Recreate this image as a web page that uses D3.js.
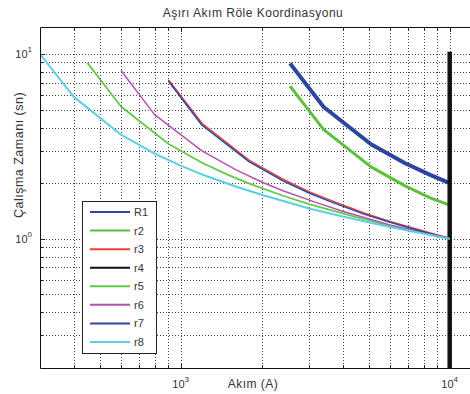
<!DOCTYPE html>
<html>
<head>
<meta charset="utf-8">
<script src="https://cdn.jsdelivr.net/npm/d3@7"></script>
<style>
  body { margin: 0; background: #fff; }
  text { font-family: "Liberation Sans", Arial, sans-serif; fill: #333; }
</style>
</head>
<body>
<svg id="chart"></svg>
<script>
const width = 470;
const height = 394;

// Relay curves: current (A) and operating time (s)
const seriesNames = ["R1", "r2", "r3", "r4", "r5", "r6", "r7", "r8"];

const r1Current = [2550, 3400, 5100, 6800, 8500, 10000];
const r1Time = [8.9, 5.17, 3.25, 2.57, 2.21, 2.0];

const r2Current = [2550, 3400, 5100, 6800, 8500, 10000];
const r2Time = [6.7, 3.9, 2.45, 1.94, 1.66, 1.52];

const r3Current = [900, 1200, 1800, 2400, 3000, 3600, 4800, 6000, 9000, 10000];
const r3Time = [7.25, 4.22, 2.66, 2.1, 1.8, 1.62, 1.38, 1.24, 1.05, 1.01];

const r4Current = [10000, 10000];
const r4Time = [10, 0.1];

const r5Current = [450, 600, 900, 1200, 1500, 1800, 2400, 3000, 4500, 6000, 10000];
const r5Time = [8.95, 5.2, 3.27, 2.58, 2.22, 1.99, 1.71, 1.54, 1.31, 1.18, 1.0];

const r6Current = [600, 800, 1200, 1600, 2000, 2400, 3200, 4000, 6000, 8000, 10000];
const r6Time = [8.15, 4.7, 2.99, 2.37, 2.03, 1.82, 1.57, 1.41, 1.19, 1.08, 1.0];

const r7Current = [900, 1200, 1800, 2400, 3000, 3600, 4800, 6000, 9000, 10000];
const r7Time = [7.15, 4.12, 2.61, 2.06, 1.77, 1.59, 1.36, 1.23, 1.04, 1.0];

const r8Current = [300, 400, 600, 800, 1000, 1200, 1600, 2000, 3000, 4000, 6000, 10000];
const r8Time = [10, 5.88, 3.66, 2.89, 2.49, 2.23, 1.92, 1.73, 1.46, 1.32, 1.16, 1.0];

const seriesColors = ["#2c45a0", "#5cc03c", "#e8403c", "#111111", "#66c848", "#b452b0", "#2f47a0", "#5ccfe0"];
const seriesWidths = [4, 3, 1.5, 4.5, 1.8, 1.5, 1.5, 2];

const xTickMajor = [1000, 10000];
const xTickLabels = ["3", "4"];
const xGrid = [400, 500, 600, 700, 800, 900, 1000, 2000, 3000, 4000, 5000, 6000, 7000, 8000, 9000, 10000];
const yTickMajor = [1, 10];
const yTickLabels = ["0", "1"];
const yGrid = [0.3, 0.4, 0.5, 0.6, 0.7, 0.8, 0.9, 1, 2, 3, 4, 5, 6, 7, 8, 9, 10];

const layout = {left: 40, top: 27, bottom: 368, right: 471};

const svg = d3.select("#chart")
    .attr("width", width)
    .attr("height", height);

const x = d3.scaleLog().domain([300, 12000]).range([layout.left, layout.right]);
const y = d3.scaleLog().domain([0.2, 14]).range([layout.bottom, layout.top]);

svg.append("clipPath").attr("id", "plotClip")
  .append("rect")
    .attr("x", layout.left).attr("y", layout.top)
    .attr("width", layout.right - layout.left)
    .attr("height", layout.bottom - layout.top);

svg.append("rect")
    .attr("x", layout.left).attr("y", layout.top)
    .attr("width", layout.right - layout.left)
    .attr("height", layout.bottom - layout.top)
    .style("fill", "#fff");

// Dotted grid
const grid = svg.append("g")
    .style("stroke", "#444")
    .style("stroke-width", 1)
    .style("stroke-dasharray", "1,2");

grid.selectAll(".gx").data(xGrid).enter().append("line")
    .attr("x1", d => Math.round(x(d)) + 0.5).attr("x2", d => Math.round(x(d)) + 0.5)
    .attr("y1", layout.top).attr("y2", layout.bottom);

grid.selectAll(".gy").data(yGrid).enter().append("line")
    .attr("y1", d => Math.round(y(d)) + 0.5).attr("y2", d => Math.round(y(d)) + 0.5)
    .attr("x1", layout.left).attr("x2", layout.right);

// Inside ticks
const ticks = svg.append("g").style("stroke", "#222").style("stroke-width", 1);
xGrid.forEach(d => {
    let len = xTickMajor.includes(d) ? 5 : 3;
    let px = Math.round(x(d)) + 0.5;
    ticks.append("line").attr("x1", px).attr("x2", px).attr("y1", layout.bottom).attr("y2", layout.bottom - len);
    ticks.append("line").attr("x1", px).attr("x2", px).attr("y1", layout.top).attr("y2", layout.top + len);
});
yGrid.forEach(d => {
    let len = yTickMajor.includes(d) ? 5 : 3;
    let py = Math.round(y(d)) + 0.5;
    ticks.append("line").attr("x1", layout.left).attr("x2", layout.left + len).attr("y1", py).attr("y2", py);
});

// Curves
const allCurrents = [r1Current, r2Current, r3Current, r4Current, r5Current, r6Current, r7Current, r8Current];
const allTimes = [r1Time, r2Time, r3Time, r4Time, r5Time, r6Time, r7Time, r8Time];

const line = d3.line().x(d => x(d[0])).y(d => y(d[1]));
const curves = svg.append("g").attr("clip-path", "url(#plotClip)");

seriesNames.forEach((name, i) => {
    let pts = allCurrents[i].map((c, j) => [c, allTimes[i][j]]);
    curves.append("path")
        .datum(pts)
        .attr("d", line)
        .style("fill", "none")
        .style("stroke", seriesColors[i])
        .style("stroke-width", seriesWidths[i])
        .style("stroke-linejoin", "round")
        .style("stroke-linecap", name === "r4" ? "square" : "butt");
});

// Axes box
svg.append("path")
    .attr("d", `M${layout.right},${layout.top + 0.5}H${layout.left + 0.5}V${layout.bottom + 0.5}H${layout.right}`)
    .style("fill", "none")
    .style("stroke", "#111")
    .style("stroke-width", 1);

// Tick labels with superscript exponents
xTickMajor.forEach((d, i) => {
    let t = svg.append("text")
        .attr("x", x(d)).attr("y", 388)
        .attr("text-anchor", "middle")
        .style("font-size", "11px");
    t.append("tspan").text("10");
    t.append("tspan").attr("dy", -6).style("font-size", "8px").text(xTickLabels[i]);
});
yTickMajor.forEach((d, i) => {
    let t = svg.append("text")
        .attr("x", 32).attr("y", y(d) + 4)
        .attr("text-anchor", "end")
        .style("font-size", "11px");
    t.append("tspan").text("10");
    t.append("tspan").attr("dy", -6).style("font-size", "8px").text(yTickLabels[i]);
});

// Title and axis labels
svg.append("text")
    .attr("x", 253).attr("y", 17)
    .attr("text-anchor", "middle")
    .style("font-size", "12px")
    .style("letter-spacing", "0.5px")
    .text("Aşırı Akım Röle Koordinasyonu");

svg.append("text")
    .attr("x", 253).attr("y", 388)
    .attr("text-anchor", "middle")
    .style("font-size", "12px")
    .style("letter-spacing", "0.5px")
    .text("Akım (A)");

svg.append("text")
    .attr("transform", "translate(23,155) rotate(-90)")
    .attr("text-anchor", "middle")
    .style("font-size", "12.5px")
    .style("letter-spacing", "0.5px")
    .text("Çalışma Zamanı (sn)");

// Legend
const legend = svg.append("g");
legend.append("rect")
    .attr("x", 82.5).attr("y", 201.5)
    .attr("width", 74).attr("height", 152)
    .style("fill", "#fff")
    .style("stroke", "#222")
    .style("stroke-width", 1);

const legendRow = d3.scaleLinear().domain([0, seriesNames.length - 1]).range([212, 342]);

seriesNames.forEach((name, i) => {
    legend.append("line")
        .attr("x1", 90).attr("x2", 130)
        .attr("y1", legendRow(i)).attr("y2", legendRow(i))
        .style("stroke", seriesColors[i])
        .style("stroke-width", 2);
    legend.append("text")
        .attr("x", 134).attr("y", legendRow(i) + 4)
        .style("font-size", "11px")
        .text(name);
});
</script>
</body>
</html>
